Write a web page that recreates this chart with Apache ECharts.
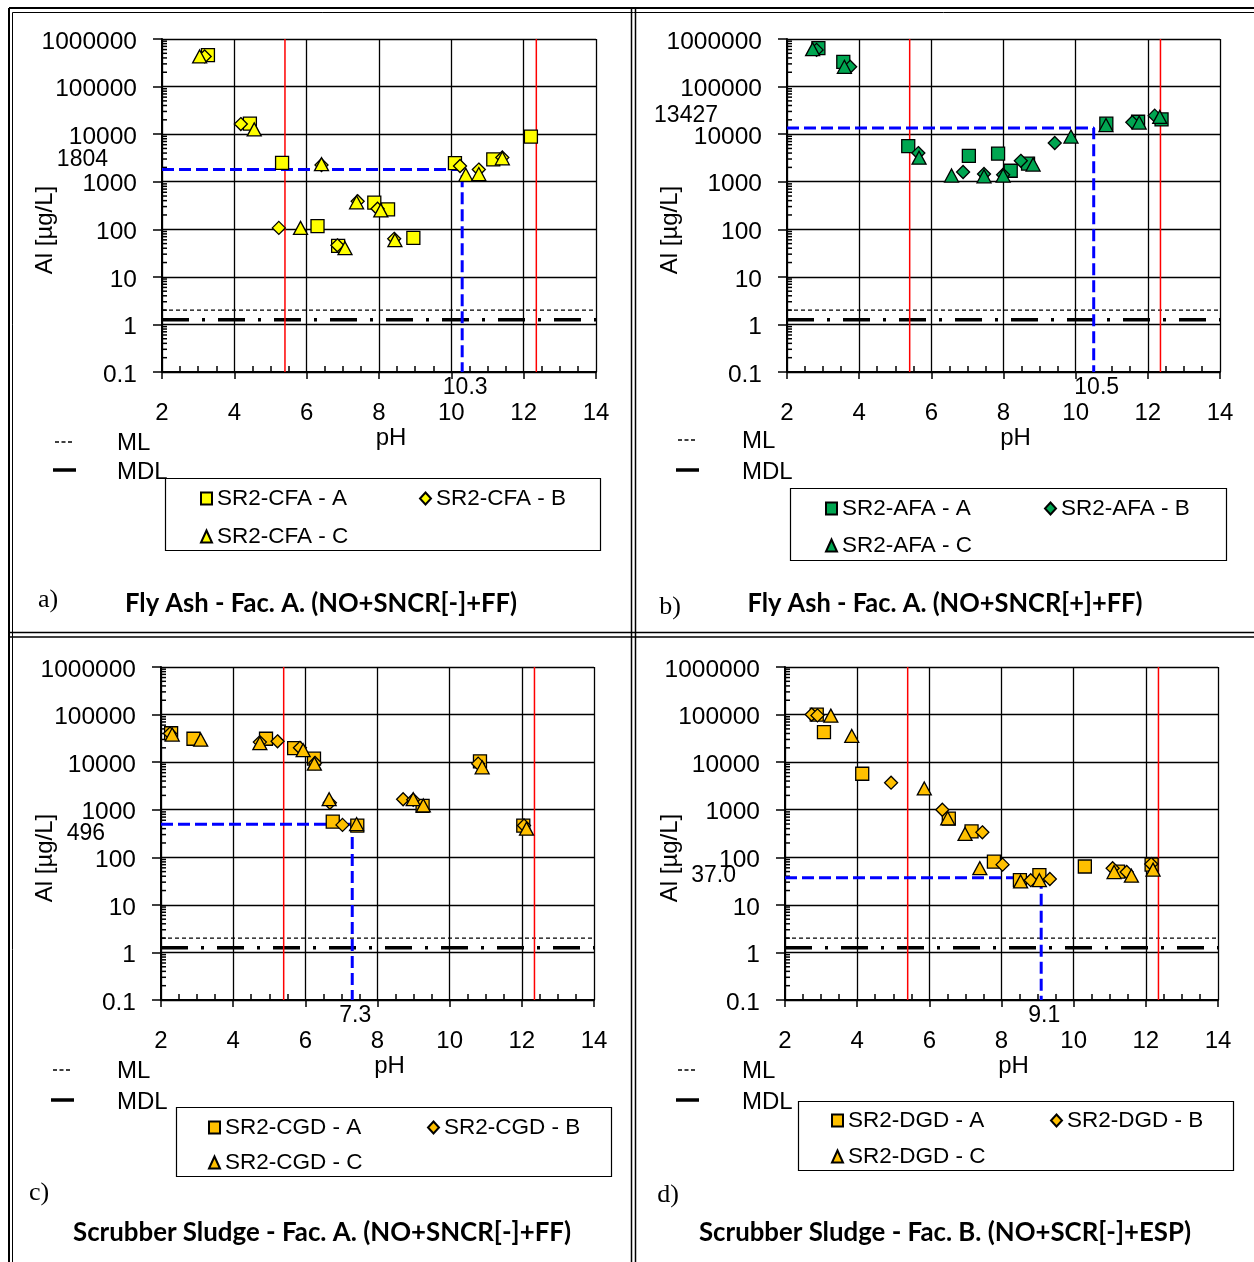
<!DOCTYPE html>
<html><head><meta charset="utf-8">
<script src="https://cdn.jsdelivr.net/npm/echarts@6/dist/echarts.min.js"></script>
<style>html,body{margin:0;padding:0;background:#fff}#c{width:1254px;height:1262px}</style>
</head><body><div id="c"></div>
<script>
// ---------- DATA ----------
const xTickValues = [2, 4, 6, 8, 10, 12, 14];
const ML = 2, MDL = 1.25;
const redLines = [5.4, 12.35];

// a) Fly Ash - Fac. A. (NO+SNCR[-]+FF)
const cfaA_pH = [3.27, 4.43, 5.32, 6.30, 6.87, 7.87, 8.25, 8.95, 10.10, 11.16, 12.20];
const cfaA_Al = [460000, 16600, 2500, 117, 45, 363, 263, 66, 2450, 2960, 8900];
const cfaB_pH = [3.18, 4.18, 5.23, 6.41, 6.85, 7.41, 7.96, 8.42, 10.24, 10.76, 11.41];
const cfaB_Al = [430000, 16300, 107, 2250, 46, 390, 270, 63, 2140, 1800, 3240];
const cfaC_pH = [3.04, 4.55, 5.83, 6.41, 7.06, 7.38, 8.05, 8.44, 10.40, 10.76, 11.41];
const cfaC_Al = [430000, 12600, 107, 2340, 40, 370, 250, 59, 1400, 1450, 3100];
const cfaRef = { al: 1804, pH: 10.3, alText: '1804', pHText: '10.3' };

// b) Fly Ash - Fac. A. (NO+SNCR[+]+FF)
const afaA_pH = [2.87, 3.56, 5.36, 7.04, 7.85, 8.20, 8.68, 10.85, 11.73, 12.38];
const afaA_Al = [640000, 330000, 5600, 3500, 3900, 1700, 2400, 16600, 18200, 20400];
const afaB_pH = [2.82, 3.75, 5.64, 6.88, 7.46, 7.99, 8.48, 9.42, 11.57, 12.19];
const afaB_Al = [590000, 260000, 4000, 1600, 1450, 1400, 2750, 6500, 17800, 24500];
const afaC_pH = [2.71, 3.59, 5.66, 6.56, 7.46, 7.99, 8.82, 9.87, 10.84, 11.76, 12.33];
const afaC_Al = [610000, 260000, 3200, 1350, 1300, 1350, 2300, 8900, 15500, 17500, 23000];
const afaRef = { al: 13427, pH: 10.5, alText: '13427', pHText: '10.5' };

// c) Scrubber Sludge - Fac. A. (NO+SNCR[-]+FF)
const cgdA_pH = [2.28, 2.90, 4.91, 5.69, 6.24, 6.76, 7.44, 9.25, 10.84, 12.04];
const cgdA_Al = [40500, 31000, 31000, 19800, 11800, 560, 465, 1200, 10400, 465];
const cgdB_pH = [2.25, 4.74, 5.23, 5.85, 6.27, 6.68, 7.03, 8.71, 8.99, 10.79, 12.06];
const cgdB_Al = [40000, 26400, 27400, 20000, 9600, 1400, 480, 1660, 1620, 9300, 465];
const cgdC_pH = [2.31, 3.10, 4.74, 5.94, 6.25, 6.66, 7.42, 8.99, 9.27, 10.90, 12.13];
const cgdC_Al = [38000, 29600, 25000, 17800, 9300, 1660, 500, 1660, 1230, 7800, 400];
const cgdRef = { al: 496, pH: 7.3, alText: '496', pHText: '7.3' };

// d) Scrubber Sludge - Fac. B. (NO+SCR[-]+ESP)
const dgdA_pH = [2.88, 3.08, 4.14, 6.54, 7.17, 7.79, 8.51, 9.05, 10.31, 11.23, 12.16];
const dgdA_Al = [100000, 42600, 5700, 650, 350, 81, 33, 42, 64, 50, 70];
const dgdB_pH = [2.74, 2.90, 4.94, 6.36, 7.47, 8.03, 8.81, 9.34, 11.08, 11.47, 12.15];
const dgdB_Al = [100000, 96000, 3700, 1000, 335, 70, 33, 35, 59, 49, 72];
const dgdC_pH = [3.27, 3.85, 5.86, 6.51, 6.99, 7.40, 8.53, 9.05, 11.12, 11.60, 12.20];
const dgdC_Al = [95000, 35500, 2800, 660, 310, 59, 31, 33, 49, 41, 55];
const dgdRef = { al: 37.0, pH: 9.1, alText: '37.0', pHText: '9.1' };

// ---------- LAYOUT / STYLE ----------
const FONT = "'Liberation Sans', Arial, sans-serif";
const TITLE_FONT = "bold 26px Lato, 'Open Sans', sans-serif";
const panels = [
  { names: ['SR2-CFA - A', 'SR2-CFA - B', 'SR2-CFA - C'], data: [[cfaA_pH, cfaA_Al], [cfaB_pH, cfaB_Al], [cfaC_pH, cfaC_Al]], ref: cfaRef,
    color: '#FFFF00', title: 'Fly Ash - Fac. A. (NO+SNCR[-]+FF)', letter: 'a)',
    L: { grid: { left: 162, top: 39, width: 434, height: 333 }, refRight: 108, refDy: -10, letterPos: [48, 600], titlePos: [321, 604], titleW: 392,
         ylab: [45, 230], mlX: 55, mlY: 442, mdlY: 470, mlTextX: 117, box: [165, 478, 435, 72], legLeft: 200, legTop: 487, legGap: 15 } },
  { names: ['SR2-AFA - A', 'SR2-AFA - B', 'SR2-AFA - C'], data: [[afaA_pH, afaA_Al], [afaB_pH, afaB_Al], [afaC_pH, afaC_Al]], ref: afaRef,
    color: '#00A651', title: 'Fly Ash - Fac. A. (NO+SNCR[+]+FF)', letter: 'b)',
    L: { grid: { left: 787, top: 39, width: 433, height: 333 }, refRight: 718, refDy: -12, letterPos: [670, 607], titlePos: [945, 604], titleW: 395,
         ylab: [670, 230], mlX: 678, mlY: 440, mdlY: 470, mlTextX: 742, box: [790, 488, 436, 72], legLeft: 825, legTop: 497, legGap: 14 } },
  { names: ['SR2-CGD - A', 'SR2-CGD - B', 'SR2-CGD - C'], data: [[cgdA_pH, cgdA_Al], [cgdB_pH, cgdB_Al], [cgdC_pH, cgdC_Al]], ref: cgdRef,
    color: '#FFC000', title: 'Scrubber Sludge - Fac. A. (NO+SNCR[-]+FF)', letter: 'c)',
    L: { grid: { left: 161, top: 667, width: 433, height: 333 }, refRight: 105, refDy: 9, letterPos: [39, 1193], titlePos: [322, 1233], titleW: 498,
         ylab: [45, 858], mlX: 53, mlY: 1070, mdlY: 1100, mlTextX: 117, box: [176, 1107, 435, 69], legLeft: 208, legTop: 1116, legGap: 12 } },
  { names: ['SR2-DGD - A', 'SR2-DGD - B', 'SR2-DGD - C'], data: [[dgdA_pH, dgdA_Al], [dgdB_pH, dgdB_Al], [dgdC_pH, dgdC_Al]], ref: dgdRef,
    color: '#FFC000', title: 'Scrubber Sludge - Fac. B. (NO+SCR[-]+ESP)', letter: 'd)',
    L: { grid: { left: 785, top: 667, width: 433, height: 333 }, refRight: 736, refDy: -2, letterPos: [668, 1195], titlePos: [945, 1233], titleW: 492,
         ylab: [670, 858], mlX: 678, mlY: 1070, mdlY: 1100, mlTextX: 742, box: [798, 1101, 435, 69], legLeft: 831, legTop: 1109, legGap: 13 } }
];
const symbols = ['rect', 'diamond', 'triangle'];
const symbolSizes = [13, 13, [14, 13]];

const yMinor = [];
for (let k = -1; k < 6; k++) for (let m = 2; m <= 9; m++) yMinor.push(m * Math.pow(10, k));

const chart = echarts.init(document.getElementById('c'), null, { renderer: 'canvas' });

const grids = [], xAxes = [], yAxes = [], series = [], legends = [];
panels.forEach((p, i) => {
  grids.push(Object.assign({ containLabel: false }, p.L.grid));
  xAxes.push({
    type: 'value', gridIndex: i, min: 2, max: 14, interval: 2,
    axisLine: { onZero: false, lineStyle: { color: '#000', width: 2 } },
    axisTick: { show: true, length: 7, lineStyle: { color: '#000', width: 1.5 } },
    minorTick: { show: true, splitNumber: 4, length: -6, lineStyle: { color: '#000', width: 1.5 } },
    splitLine: { show: true, lineStyle: { color: '#000', width: 1.3 } },
    axisLabel: { margin: 29, fontSize: 24, color: '#000', fontFamily: FONT },
    name: 'pH', nameLocation: 'middle', nameGap: 54,
    nameTextStyle: { fontSize: 24, color: '#000', fontFamily: FONT, padding: [0, 0, 0, 24] }
  });
  yAxes.push({
    type: 'log', logBase: 10, gridIndex: i, min: 0.1, max: 1000000, interval: 1, splitNumber: 7,
    axisLine: { onZero: false, lineStyle: { color: '#000', width: 2 } },
    axisTick: { show: true, length: 9, lineStyle: { color: '#000', width: 1.5 } },
    minorTick: { show: false },
    splitLine: { show: true, lineStyle: { color: '#000', width: 1.3 } },
    axisLabel: { margin: 25, color: '#000',
      formatter: v => '{t|' + (v < 1 ? String(Math.round(v * 10) / 10) : String(Math.round(v))) + '}',
      rich: { t: { fontSize: 24.5, fontFamily: FONT, color: '#000', padding: [6, 0, 0, 0] } } }
  });
  // y minor (log) ticks
  series.push({
    type: 'custom', xAxisIndex: i, yAxisIndex: i, silent: true, z: 3,
    data: yMinor.map(v => [2, v]),
    renderItem: (params, api) => {
      const pt = api.coord([api.value(0), api.value(1)]);
      return { type: 'line', shape: { x1: pt[0], y1: pt[1], x2: pt[0] + 5, y2: pt[1] },
               style: { stroke: '#000', lineWidth: 1.5 } };
    }
  });
  // ML, MDL
  series.push({ type: 'line', xAxisIndex: i, yAxisIndex: i, silent: true, symbol: 'none', z: 3,
    data: [[2, ML], [14, ML]], lineStyle: { color: '#000', width: 1.2, type: [4, 3] } });
  series.push({ type: 'line', xAxisIndex: i, yAxisIndex: i, silent: true, symbol: 'none', z: 3,
    data: [[2, MDL], [14, MDL]], lineStyle: { color: '#000', width: 3.5, type: [27, 13, 3, 13], cap: 'butt' } });
  // red pH lines
  redLines.forEach(r => series.push({ type: 'line', xAxisIndex: i, yAxisIndex: i, silent: true, symbol: 'none', z: 3,
    data: [[r, 0.1], [r, 1000000]], lineStyle: { color: '#FF0000', width: 1.5 } }));
  // blue reference
  series.push({ type: 'line', xAxisIndex: i, yAxisIndex: i, silent: true, symbol: 'none', z: 4,
    data: [[2, p.ref.al], [p.ref.pH, p.ref.al], [p.ref.pH, 0.1]],
    lineStyle: { color: '#0000FF', width: 3, type: [12, 5] } });
  // scatter
  p.data.forEach((d, k) => {
    series.push({
      type: 'scatter', name: p.names[k], xAxisIndex: i, yAxisIndex: i, z: 6,
      symbol: symbols[k], symbolSize: symbolSizes[k],
      itemStyle: { color: p.color, borderColor: '#000', borderWidth: 1.3, opacity: 1 },
      data: d[0].map((x, j) => [x, d[1][j]])
    });
  });
  legends.push({
    data: p.names, left: p.L.legLeft, top: p.L.legTop, orient: 'horizontal', width: 470,
    padding: 0, itemWidth: 11, itemHeight: 12, itemGap: p.L.legGap, selectedMode: false,
    textStyle: { fontSize: 22.5, color: '#000', fontFamily: FONT, width: 202 - p.L.legGap, lineHeight: 20, overflow: 'none' }
  });
});

chart.setOption({
  animation: false, backgroundColor: '#fff',
  grid: grids, xAxis: xAxes, yAxis: yAxes, series: series, legend: legends
});

// ---------- annotations ----------
const measureCtx = document.createElement('canvas').getContext('2d');
const g = [];
function line(x1, y1, x2, y2, w, dash) {
  g.push({ type: 'line', silent: true, z: 10, shape: { x1, y1, x2, y2 }, style: { stroke: '#000', lineWidth: w, lineDash: dash || null } });
}
function text(t, x, y, opts) {
  opts = opts || {};
  const el = { type: 'text', silent: true, z: 10, x, y,
    style: Object.assign({ text: t, fill: '#000', font: '24px ' + FONT, align: 'left', verticalAlign: 'middle' }, opts.style || {}) };
  if (opts.rotation) el.rotation = opts.rotation;
  if (opts.scaleX) el.scaleX = opts.scaleX;
  g.push(el);
}
// frames
line(9, 8, 9, 1262, 2); line(12.5, 12.5, 12.5, 1262, 1);
line(9, 8, 1254, 8, 2); line(12.5, 12.5, 1254, 12.5, 1);
line(631.5, 8, 631.5, 1262, 1.5); line(635.5, 8, 635.5, 1262, 1.5);
line(9, 632.5, 1254, 632.5, 1.5); line(9, 637, 1254, 637, 1.5);

panels.forEach((p, i) => {
  const L = p.L;
  const pAl = chart.convertToPixel({ gridIndex: i }, [2, p.ref.al]);
  const pPh = chart.convertToPixel({ gridIndex: i }, [p.ref.pH, 0.1]);
  text(p.ref.alText, L.refRight, pAl[1] + L.refDy, { style: { align: 'right', font: '23px ' + FONT } });
  text(p.ref.pHText, pPh[0] + 3, pPh[1] + 16, { style: { align: 'center', font: '23px ' + FONT } });
  text('Al [µg/L]', L.ylab[0], L.ylab[1], { rotation: Math.PI / 2, style: { align: 'center', font: '24px ' + FONT } });
  line(L.mlX, L.mlY, L.mlX + 17, L.mlY, 1.6, [4, 2.5]);
  text('ML', L.mlTextX, L.mlY + 1);
  g.push({ type: 'rect', silent: true, z: 10, shape: { x: L.mlX - 2, y: L.mdlY - 1.75, width: 23, height: 3.5 }, style: { fill: '#000' } });
  text('MDL', L.mlTextX, L.mdlY + 2);
  g.push({ type: 'rect', silent: true, z: 1, shape: { x: L.box[0] + 0.5, y: L.box[1] + 0.5, width: L.box[2], height: L.box[3] },
    style: { fill: '#fff', stroke: '#000', lineWidth: 1.2 } });
  text(p.letter, L.letterPos[0], L.letterPos[1], { style: { align: 'center', font: '26px "Liberation Serif", "Times New Roman", serif' } });
  measureCtx.font = TITLE_FONT;
  const w = measureCtx.measureText(p.title).width;
  text(p.title, L.titlePos[0], L.titlePos[1], { scaleX: L.titleW / w, style: { align: 'center', font: TITLE_FONT } });
});

chart.setOption({ graphic: g });
</script>
</body></html>
